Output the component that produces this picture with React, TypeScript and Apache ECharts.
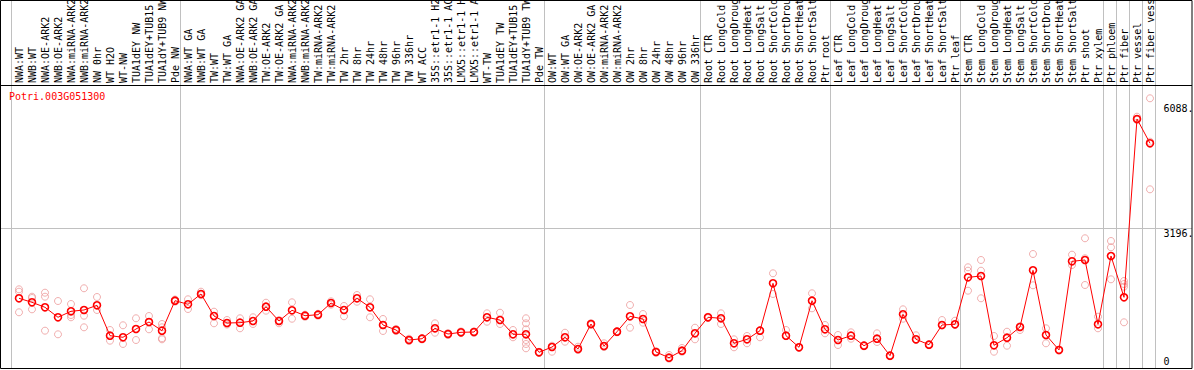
import React, { useEffect, useRef } from "react";
import * as echarts from "echarts";

const geneTitle = "Potri.003G051300";

const categories = [
  "NWA:WT", "NWB:WT", "NWA:OE-ARK2", "NWB:OE-ARK2", "NWA:miRNA-ARK2", "NWB:miRNA-ARK2",
  "NW 0hr", "WT H2O", "WT-NW", "TUA1dEY NW", "TUA1dEY+TUB15 NW", "TUA1dY+TUB9 NW", "Pde NW",
  "NWA:WT GA", "NWB:WT GA", "TW:WT", "TW:WT GA", "NWA:OE-ARK2 GA", "NWB:OE-ARK2 GA",
  "TW:OE-ARK2", "TW:OE-ARK2 GA", "NWA:miRNA-ARK2 GA", "NWB:miRNA-ARK2 GA", "TW:miRNA-ARK2",
  "TW:miRNA-ARK2", "TW 2hr", "TW 8hr", "TW 24hr", "TW 48hr", "TW 96hr", "TW 336hr", "WT ACC",
  "35S::etr1-1 H2O", "35S::etr1-1 ACC", "LMX5::etr1-1 H2O", "LMX5::etr1-1 ACC", "WT-TW",
  "TUA1dEY TW", "TUA1dEY+TUB15 TW", "TUA1dY+TUB9 TW", "Pde TW",
  "OW:WT", "OW:WT GA", "OW:OE-ARK2", "OW:OE-ARK2 GA", "OW:miRNA-ARK2", "OW:miRNA-ARK2",
  "OW 2hr", "OW 8hr", "OW 24hr", "OW 48hr", "OW 96hr", "OW 336hr",
  "Root CTR", "Root LongCold", "Root LongDrought", "Root LongHeat", "Root LongSalt",
  "Root ShortCold", "Root ShortDrought", "Root ShortHeat", "Root ShortSalt", "Ptr root",
  "Leaf CTR", "Leaf LongCold", "Leaf LongDrought", "Leaf LongHeat", "Leaf LongSalt",
  "Leaf ShortCold", "Leaf ShortDrought", "Leaf ShortHeat", "Leaf ShortSalt", "Ptr leaf",
  "Stem CTR", "Stem LongCold", "Stem LongDrought", "Stem LongHeat", "Stem LongSalt",
  "Stem ShortCold", "Stem ShortDrought", "Stem ShortHeat", "Stem ShortSalt", "Ptr shoot",
  "Ptr xylem", "Ptr phloem", "Ptr fiber", "Ptr vessel", "Ptr fiber vessel",
];

const means = [
  1568, 1475, 1359, 1128, 1267, 1297, 1406, 702, 665, 857,
  1019, 818, 1512, 1429, 1668, 1158, 996, 1003, 1042, 1373,
  1042, 1290, 1165, 1188, 1459, 1297, 1568, 1359, 950, 834,
  602, 632, 873, 741, 780, 787, 1128, 1065, 734, 734,
  317, 440, 665, 394, 973, 463, 794, 1151, 1089, 324,
  192, 354, 757, 1128, 1105, 526, 618, 818, 1915, 702,
  433, 1512, 850, 602, 702, 470, 632, 239, 1197, 618,
  493, 950, 966, 2054, 2084, 479, 655, 903, 2216, 718,
  371, 2425, 2455, 966, 2548, 1591, 5721, 5158,
];

const replicates = [
  [1776, 1721, 1244], [1605, 1575, 1313], [1698, 1605, 818], [1505, 734], [1436, 1181, 1128],
  [1800, 1165, 896], [1598, 1297], [834, 586], [943, 510], [1105, 602],
  [1158, 850], [973, 896, 642, 618], [1540, 1490], [1545, 1320], [1721, 1640],
  [1258, 989], [1065, 960], [1105, 873], [1128, 973], [1466, 1281],
  [989, 1060], [1475, 1095], [1190, 1140], [1210, 1165], [1498, 1420],
  [1390, 1151], [1644, 1489], [1545, 1128], [1089, 811], [860, 810],
  [632, 580], [650, 615], [989, 771], [760, 720], [800, 760],
  [800, 770], [1220, 1026], [1234, 973], [834, 665], [1105, 989, 850, 602, 510, 410],
  [330, 300], [470, 331], [771, 563], [447, 370], [990, 950],
  [526, 440], [810, 780], [1413, 887], [1204, 1003], [340, 310],
  [255, 170], [417, 330], [887, 618], [1140, 1110], [1220, 973],
  [618, 433], [695, 526], [830, 665], [2147, 1668], [834, 690],
  [440, 420], [1684, 1336], [950, 757], [718, 486], [780, 632],
  [480, 455], [757, 556], [250, 225], [1313, 1095], [711, 600],
  [505, 480], [1065, 940], [1049, 950], [2286, 2207, 1744], [2455, 2207, 1568],
  [695, 331], [794, 470], [920, 834], [2594, 1869], [873, 526],
  [380, 360], [2578, 2339], [2958, 2494, 1876], [1142, 873], [2895, 2749, 2008],
  [1969, 1899, 1837, 1012], [5774, 5700], [6200, 5195, 4092],
];

// category indices where a group divider is drawn (boundary before that index)
const groupBoundaries = [0, 13, 41, 53, 63, 73, 84, 85, 86, 87, 88];
const yTickLabels = [3196, 6088];
const yZeroLabel = [0];
const yMax = 6508;
const gridLine = 3196;

const FONT = "DejaVu Sans Mono";

export default function App() {
  const ref = useRef<HTMLDivElement>(null);
  useEffect(() => {
    if (!ref.current) return;
    const chart = echarts.init(ref.current, undefined, { renderer: "svg" });
    const repData: number[][] = [];
    replicates.forEach((arr, i) => arr.forEach((v) => repData.push([i, v])));
    const W = 1194;
    const gridLeft = 12.5;
    const gridRight = 37.5;
    chart.setOption({
      animation: false,
      title: {
        text: geneTitle,
        left: 9,
        top: 91,
        padding: 0,
        textStyle: { color: "#ff0000", fontFamily: FONT, fontSize: 10, fontWeight: "normal" },
      },
      grid: {
        left: gridLeft,
        right: gridRight,
        top: 85,
        bottom: 4,
        containLabel: false,
        outerBoundsMode: "none",
      },
      xAxis: {
        type: "category",
        position: "top",
        data: categories,
        boundaryGap: true,
        axisLine: { show: false },
        axisTick: { show: false },
        splitLine: { show: false },
        axisLabel: {
          interval: 0,
          rotate: 90,
          margin: 2,
          hideOverlap: false,
          color: "#000",
          fontFamily: FONT,
          fontSize: 10,
        },
      },
      yAxis: [
        {
          type: "value",
          min: 0,
          max: yMax,
          position: "right",
          axisLine: { show: false },
          axisTick: { show: false },
          splitLine: { show: false },
          axisLabel: {
            customValues: yTickLabels,
            formatter: (v: number) => v + ".",
            verticalAlign: "top",
            align: "left",
            margin: 7,
            color: "#000",
            fontFamily: FONT,
            fontSize: 10,
          },
        },
        {
          type: "value",
          min: 0,
          max: yMax,
          position: "right",
          axisLine: { show: false },
          axisTick: { show: false },
          splitLine: { show: false },
          axisLabel: {
            customValues: yZeroLabel,
            formatter: (v: number) => String(v),
            verticalAlign: "bottom",
            align: "left",
            margin: 7,
            color: "#000",
            fontFamily: FONT,
            fontSize: 10,
          },
        },
      ],
      series: [
        {
          type: "scatter",
          data: repData,
          symbol: "circle",
          symbolSize: 7,
          clip: false,
          itemStyle: { color: "transparent", borderColor: "#ec9a9a", borderWidth: 1 },
          z: 2,
        },
        {
          type: "line",
          data: means,
          symbol: "circle",
          symbolSize: 7,
          clip: false,
          lineStyle: { color: "#ff0000", width: 1 },
          itemStyle: { color: "transparent", borderColor: "#ff0000", borderWidth: 1.6 },
          z: 3,
        },
      ],
    });

    const c0 = chart.convertToPixel({ xAxisIndex: 0 }, 0) as number;
    const c1 = chart.convertToPixel({ xAxisIndex: 0 }, 1) as number;
    const band = c1 - c0;
    const dividerShift = -1.5;
    const yLine = chart.convertToPixel({ yAxisIndex: 0 }, gridLine) as number;
    const graphics: any[] = [];
    groupBoundaries.forEach((b) => {
      const x = Math.round(c0 + (b - 0.5) * band + dividerShift) + 0.5;
      graphics.push({
        type: "line",
        shape: { x1: x, y1: 0, x2: x, y2: 368 },
        style: { stroke: "#c0c0c0", lineWidth: 1 },
        z: -1,
      });
    });
    graphics.push({
      type: "line",
      shape: { x1: 0, y1: Math.round(yLine) + 0.5, x2: W - 2, y2: Math.round(yLine) + 0.5 },
      style: { stroke: "#c0c0c0", lineWidth: 1 },
      z: -1,
    });
    graphics.push({
      type: "line",
      shape: { x1: 0, y1: 85.5, x2: W - 2, y2: 85.5 },
      style: { stroke: "#000", lineWidth: 1 },
      z: 5,
    });
    graphics.push({
      type: "rect",
      shape: { x: 0.5, y: 0.5, width: W - 2.5, height: 368 },
      style: { fill: "none", stroke: "#000", lineWidth: 1 },
      z: 5,
    });
    chart.setOption({ graphic: graphics });

    return () => chart.dispose();
  }, []);
  return (
    <div
      ref={ref}
      style={{ position: "fixed", left: 0, top: 0, width: 1194, height: 370, background: "#fff" }}
    />
  );
}
